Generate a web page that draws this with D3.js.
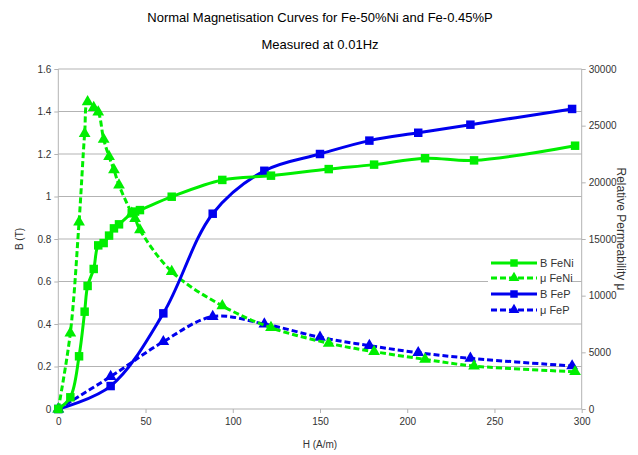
<!DOCTYPE html>
<html><head><meta charset="utf-8">
<script src="https://cdn.jsdelivr.net/npm/d3@7"></script>
<style>body{margin:0;background:#fff}svg{display:block;font-family:"Liberation Sans",Arial,sans-serif}</style>
</head><body><svg id="c" width="638" height="455"></svg>
<script>
const H_FeNi = [0, 6.9, 11.9, 15.1, 16.8, 20.3, 22.9, 26.0, 29.1, 31.9, 34.8, 42.1, 44.0, 46.8, 65.0, 94.0, 121.9, 155.0, 181.0, 210.2, 238.3, 296.2];
const B_FeNi = [0, 0.055, 0.248, 0.458, 0.579, 0.659, 0.770, 0.781, 0.816, 0.850, 0.869, 0.921, 0.929, 0.936, 0.999, 1.078, 1.098, 1.129, 1.150, 1.180, 1.170, 1.239];
const mu_FeNi = [0, 6700, 16500, 24300, 27100, 26600, 26200, 23800, 22270, 21100, 19750, 17270, 16800, 15800, 12120, 9100, 7180, 5800, 5060, 4380, 3790, 3290];
const H_FeP = [0, 30, 60.2, 88.5, 118.1, 150, 178.3, 206.3, 236.2, 294.5];
const B_FeP = [0, 0.108, 0.450, 0.919, 1.121, 1.200, 1.263, 1.300, 1.338, 1.412];
const mu_FeP = [0, 2860, 5940, 8150, 7500, 6330, 5590, 4970, 4470, 3800];
const xTicks = [0, 50, 100, 150, 200, 250, 300];
const yTicks = [0, 0.2, 0.4, 0.6, 0.8, 1, 1.2, 1.4, 1.6];
const y2Ticks = [0, 5000, 10000, 15000, 20000, 25000, 30000];
const seriesNames = ["B FeNi", "μ FeNi", "B FeP", "μ FeP"];
const GREEN = "#00ee00", BLUE = "#0000ee";

const svg = d3.select("#c");
const L = 58.3, R = 581.7, T = 69, B = 409;
const x = d3.scaleLinear().domain([0, 300]).range([L, R]);
const y = d3.scaleLinear().domain([0, 1.6]).range([B, T]);
const y2 = d3.scaleLinear().domain([0, 30000]).range([B, T]);

// grid
svg.append("g").selectAll("line").data(yTicks.slice(1)).join("line")
  .attr("x1", L).attr("x2", R).attr("y1", d => y(d)).attr("y2", d => y(d))
  .attr("stroke", "#b3b3b3").attr("stroke-width", 1);

const gx = svg.append("g").attr("transform", `translate(0,${B})`)
  .call(d3.axisBottom(x).tickValues(xTicks).tickSize(4).tickPadding(5).tickFormat(d3.format("d")));
const gy = svg.append("g").attr("transform", `translate(${L},0)`)
  .call(d3.axisLeft(y).tickValues(yTicks).tickSize(4).tickPadding(3).tickFormat(d => d === 0 ? "0" : d3.format("")(d)));
const gy2 = svg.append("g").attr("transform", `translate(${R},0)`)
  .call(d3.axisRight(y2).tickValues(y2Ticks).tickSize(4).tickPadding(3).tickFormat(d3.format("d")));
[gx, gy, gy2].forEach(g => {
  g.selectAll("path.domain").attr("stroke", "#b3b3b3");
  g.selectAll(".tick line").attr("stroke", "#b3b3b3");
  g.selectAll("text").attr("font-size", 10).attr("fill", "#333").attr("font-family", "Liberation Sans, Arial, sans-serif");
});
gx.select("path.domain").attr("d", `M${L},0H${R}`);
gy.select("path.domain").attr("d", `M0,${B}V${T}`);
gy2.select("path.domain").attr("d", `M0,${B}V${T}`);

const curve = d3.curveCatmullRom.alpha(0.5);
function series(H, V, ys, color, dashed, marker) {
  const pts = H.map((h, i) => [x(h), ys(V[i])]);
  svg.append("path").attr("d", d3.line().curve(curve)(pts))
    .attr("fill", "none").attr("stroke", color).attr("stroke-width", 3)
    .attr("stroke-dasharray", dashed ? "6,3" : null);
  const sym = d3.symbol().type(marker === "sq" ? d3.symbolSquare : d3.symbolTriangle).size(marker === "sq" ? 72 : 60);
  svg.append("g").selectAll("path").data(pts).join("path")
    .attr("transform", d => `translate(${d[0]},${d[1]})`)
    .attr("d", sym()).attr("fill", color);
}
series(H_FeP, mu_FeP, y2, BLUE, true, "tri");
series(H_FeNi, mu_FeNi, y2, GREEN, true, "tri");
series(H_FeP, B_FeP, y, BLUE, false, "sq");
series(H_FeNi, B_FeNi, y, GREEN, false, "sq");

// legend
const lg = svg.append("g");
lg.append("rect").attr("x", 488).attr("y", 254).attr("width", 84).attr("height", 64).attr("fill", "#fff");
const legendItems = [
  {name: seriesNames[0], c: GREEN, d: false, m: "sq"},
  {name: seriesNames[1], c: GREEN, d: true, m: "tri"},
  {name: seriesNames[2], c: BLUE, d: false, m: "sq"},
  {name: seriesNames[3], c: BLUE, d: true, m: "tri"}];
const ly = [263, 278, 294, 310];
legendItems.forEach((it, i) => {
  lg.append("line").attr("x1", 491).attr("x2", 537).attr("y1", ly[i]).attr("y2", ly[i])
    .attr("stroke", it.c).attr("stroke-width", 3).attr("stroke-dasharray", it.d ? "6,3" : null);
  lg.append("path").attr("transform", `translate(514,${ly[i]})`)
    .attr("d", d3.symbol().type(it.m === "sq" ? d3.symbolSquare : d3.symbolTriangle).size(it.m === "sq" ? 56 : 50)())
    .attr("fill", it.c);
  lg.append("text").attr("x", 540).attr("y", ly[i] + 4).attr("font-size", 11).attr("fill", "#333").text(it.name);
});

// titles
svg.append("text").attr("x", 320).attr("y", 22).attr("text-anchor", "middle").attr("font-size", 13).attr("fill", "#000")
  .text("Normal Magnetisation Curves for Fe-50%Ni and Fe-0.45%P");
svg.append("text").attr("x", 320).attr("y", 49).attr("text-anchor", "middle").attr("font-size", 13).attr("fill", "#000")
  .text("Measured at 0.01Hz");
svg.append("text").attr("transform", "translate(23,239) rotate(-90)").attr("text-anchor", "middle")
  .attr("font-size", 10).attr("fill", "#333").text("B (T)");
svg.append("text").attr("x", 320).attr("y", 448).attr("text-anchor", "middle")
  .attr("font-size", 10).attr("fill", "#333").text("H (A/m)");
svg.append("text").attr("transform", "translate(617,229) rotate(90)").attr("text-anchor", "middle")
  .attr("font-size", 12).attr("fill", "#333").text("Relative Permeability μ");
</script></body></html>
